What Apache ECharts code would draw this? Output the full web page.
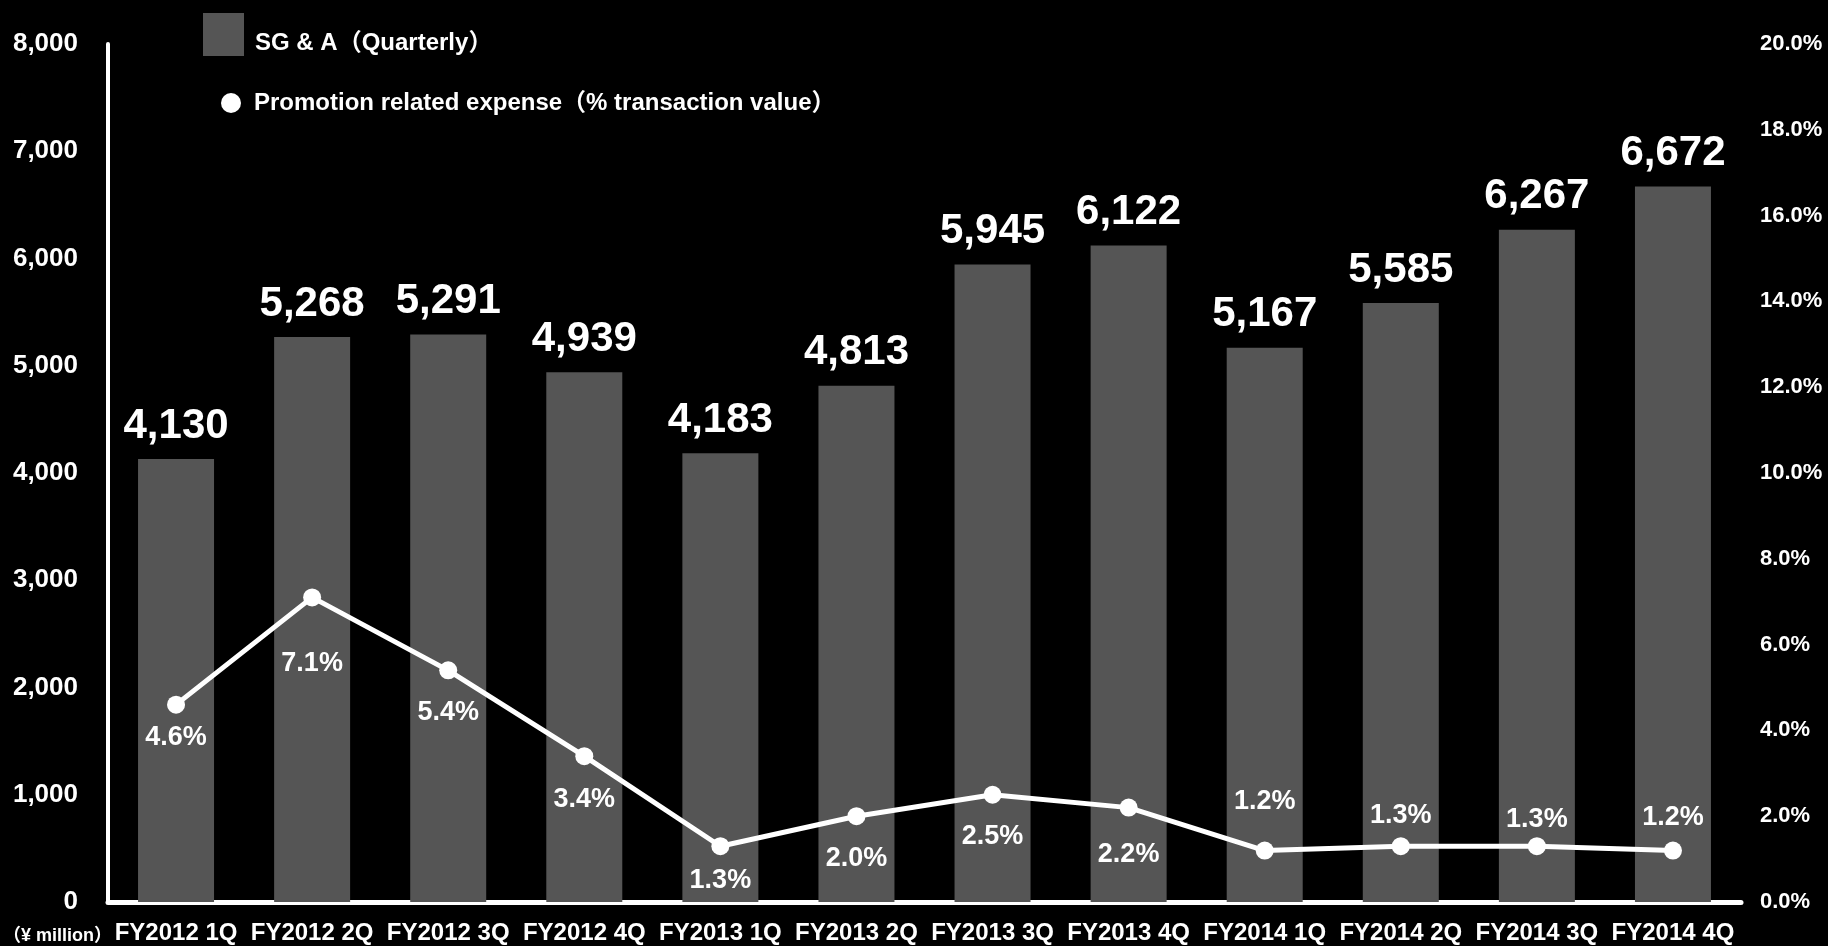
<!DOCTYPE html>
<html>
<head>
<meta charset="utf-8">
<title>SG&amp;A and Promotion related expense</title>
<script src="https://cdn.jsdelivr.net/npm/echarts@6/dist/echarts.min.js"></script>
<style>
  html, body { margin: 0; padding: 0; background: #000; }
  #chart { width: 1828px; height: 946px; }
</style>
</head>
<body>
<div id="chart"></div>
<script>
// Quarterly categories
const categories = [
  'FY2012 1Q', 'FY2012 2Q', 'FY2012 3Q', 'FY2012 4Q',
  'FY2013 1Q', 'FY2013 2Q', 'FY2013 3Q', 'FY2013 4Q',
  'FY2014 1Q', 'FY2014 2Q', 'FY2014 3Q', 'FY2014 4Q'
];
// SG & A, ¥ million
const sgaValues = [4130, 5268, 5291, 4939, 4183, 4813, 5945, 6122, 5167, 5585, 6267, 6672];
// Promotion related expense, % of transaction value
const promoRates = [4.6, 7.1, 5.4, 3.4, 1.3, 2.0, 2.5, 2.2, 1.2, 1.3, 1.3, 1.2];

const sgaName = 'SG & A（Quarterly）';
const promoName = 'Promotion related expense（% transaction value）';

// Vertical nudges for the percentage labels (below the point, or above where the line crowds the bars)
const rateLabelShift = [33, 66, 42, 43, 34, 42, 42, 47, -49, -31, -27, -33];

// Legend swatch for the bars: a square sitting in the upper part of a taller box,
// so the legend text lines up with its lower half
const barSwatch = 'path://M0,0L41,0L41,43L0,43ZM0,60L0.01,60L0,60Z';

const FONT = "'Liberation Sans', Arial, 'Noto Sans CJK JP', sans-serif";

const chart = echarts.init(document.getElementById('chart'));

chart.setOption({
  backgroundColor: '#000',
  animation: false,
  textStyle: { fontFamily: FONT },
  grid: { left: 108, right: 87, top: 44, bottom: 44 },
  legend: [
    {
      data: [{ name: sgaName, icon: barSwatch }],
      left: 198, top: 8,
      itemWidth: 41, itemHeight: 60,
      textStyle: { color: '#fff', fontSize: 24, fontWeight: 'bold', fontFamily: FONT, padding: [0, 0, 0, 6] }
    },
    {
      data: [{ name: promoName, icon: 'circle' }],
      left: 216, top: 86,
      itemWidth: 20, itemHeight: 20,
      textStyle: { color: '#fff', fontSize: 24, fontWeight: 'bold', fontFamily: FONT, padding: [0, 0, 0, 8] }
    }
  ],
  graphic: [
    {
      type: 'text',
      x: 3, y: 936,
      style: {
        text: '（¥ million）', fill: '#fff',
        font: 'bold 18px ' + FONT, verticalAlign: 'middle', align: 'left'
      }
    }
  ],
  xAxis: {
    type: 'category',
    data: categories,
    axisLine: { show: true, lineStyle: { color: '#fff', width: 5 } },
    axisTick: { show: false },
    axisLabel: { color: '#fff', fontSize: 24, fontWeight: 'bold', margin: 19, interval: 0 }
  },
  yAxis: [
    {
      type: 'value',
      min: 0, max: 8000, interval: 1000,
      splitLine: { show: false },
      axisTick: { show: false },
      axisLine: { show: true, lineStyle: { color: '#fff', width: 4 } },
      axisLabel: {
        color: '#fff', fontSize: 26, fontWeight: 'bold', margin: 30,
        formatter: v => v.toLocaleString('en-US')
      }
    },
    {
      type: 'value',
      min: 0, max: 20, interval: 2,
      splitLine: { show: false },
      axisTick: { show: false },
      axisLine: { show: false },
      axisLabel: {
        color: '#fff', fontSize: 22, fontWeight: 'bold', margin: 19,
        formatter: v => v.toFixed(1) + '%'
      }
    }
  ],
  series: [
    {
      name: sgaName,
      type: 'bar',
      data: sgaValues,
      barWidth: 76,
      itemStyle: { color: '#555555' },
      label: {
        show: true,
        position: 'top',
        distance: 12,
        color: '#fff',
        fontSize: 42,
        fontWeight: 'bold',
        formatter: p => p.value.toLocaleString('en-US')
      },
      z: 2
    },
    {
      name: promoName,
      type: 'line',
      yAxisIndex: 1,
      data: promoRates.map((v, i) => ({
        value: v,
        label: { offset: [0, rateLabelShift[i]] }
      })),
      symbol: 'circle',
      symbolSize: 18,
      itemStyle: { color: '#fff' },
      lineStyle: { color: '#fff', width: 5 },
      label: {
        show: true,
        position: 'inside',
        color: '#fff',
        fontSize: 27,
        fontWeight: 'bold',
        formatter: p => p.value.toFixed(1) + '%'
      },
      z: 5
    }
  ]
});
</script>
</body>
</html>
